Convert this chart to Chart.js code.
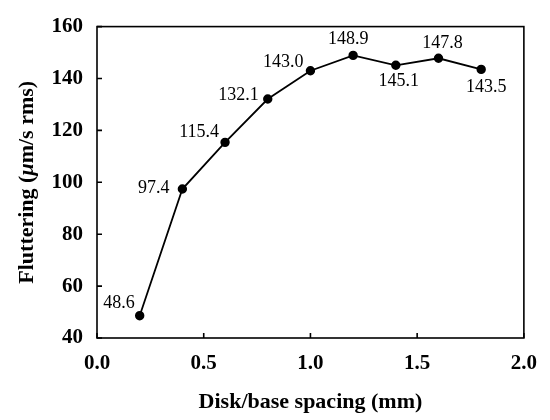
<!DOCTYPE html>
<html>
<head>
<meta charset="utf-8">
<script src="https://cdn.jsdelivr.net/npm/chart.js@4.4.0/dist/chart.umd.min.js"></script>
<style>
  html, body { margin: 0; padding: 0; background: #fff; }
  canvas { display: block; }
</style>
</head>
<body>
<canvas id="c" width="550" height="420"></canvas>
<script>
// ── DATA ─────────────────────────────────────────────────────────────
const spacing = [0.2, 0.4, 0.6, 0.8, 1.0, 1.2, 1.4, 1.6, 1.8]
const flutter = [48.6, 97.4, 115.4, 132.1, 143.0, 148.9, 145.1, 147.8, 143.5]
const xTicks = [0.0, 0.5, 1.0, 1.5, 2.0]
const yTicks = [40, 60, 80, 100, 120, 140, 160]

const SERIF = "'Liberation Serif', 'Times New Roman', serif"

// where each value label sits next to its point: [align, dx, dy]
const labelPos = [
  ["right", -5, -12], ["right", -13, -1], ["right", -6, -10],
  ["right", -9, -4], ["right", -7, -8], ["center", -5, -16],
  ["center", 3, 16], ["center", 4, -15], ["center", 5, 18]
]

// frame + inward tick marks
const frame = {
  id: "frame",
  beforeDatasetsDraw(chart) {
    const { ctx, chartArea: a, scales: { x, y } } = chart
    ctx.save()
    ctx.strokeStyle = "#000"
    ctx.lineWidth = 1.6
    ctx.strokeRect(a.left, a.top, a.right - a.left, a.bottom - a.top)
    ctx.beginPath()
    xTicks.forEach(v => {
      const px = x.getPixelForValue(v)
      ctx.moveTo(px, a.bottom); ctx.lineTo(px, a.bottom - 5)
    })
    yTicks.forEach(v => {
      const py = y.getPixelForValue(v)
      ctx.moveTo(a.left, py); ctx.lineTo(a.left + 5, py)
    })
    ctx.stroke()
    ctx.restore()
  }
}

// value labels + y title with italic mu
const labels = {
  id: "labels",
  afterDatasetsDraw(chart) {
    const { ctx } = chart
    const pts = chart.getDatasetMeta(0).data
    ctx.save()
    ctx.fillStyle = "#000"
    ctx.font = "18px " + SERIF
    ctx.textBaseline = "middle"
    pts.forEach((p, i) => {
      const [align, dx, dy] = labelPos[i]
      ctx.textAlign = align
      ctx.fillText(flutter[i].toFixed(1), p.x + dx, p.y + dy)
    })

    const parts = [
      ["Fluttering (", "bold 22px " + SERIF],
      ["\u03bc", "bold italic 22px " + SERIF],
      ["m/s rms)", "bold 22px " + SERIF]
    ]
    let w = 0
    parts.forEach(([t, f]) => { ctx.font = f; w += ctx.measureText(t).width })
    const a = chart.chartArea
    ctx.translate(27, (a.top + a.bottom) / 2)
    ctx.rotate(-Math.PI / 2)
    ctx.textAlign = "left"
    let xo = -w / 2
    parts.forEach(([t, f]) => {
      ctx.font = f
      ctx.fillText(t, xo, 0)
      xo += ctx.measureText(t).width
    })
    ctx.restore()
  }
}

new Chart(document.getElementById("c"), {
  type: "scatter",
  data: {
    datasets: [{
      data: spacing.map((x, i) => ({ x, y: flutter[i] })),
      showLine: true,
      borderColor: "#000",
      backgroundColor: "#000",
      borderWidth: 1.8,
      pointRadius: 3.8,
      pointHoverRadius: 3.8
    }]
  },
  options: {
    responsive: false,
    animation: false,
    events: [],
    layout: { padding: { top: 15, right: 25, left: 0, bottom: 0 } },
    plugins: { legend: { display: false }, tooltip: { enabled: false } },
    scales: {
      x: {
        type: "linear",
        min: 0, max: 2,
        afterBuildTicks: s => { s.ticks = xTicks.map(value => ({ value })) },
        afterFit: s => { s.height = 82 },
        grid: { display: false, drawTicks: false },
        border: { display: false },
        ticks: {
          padding: 13,
          color: "#000",
          font: { family: SERIF, size: 21, weight: "bold" },
          callback: v => v.toFixed(1)
        },
        title: {
          display: true,
          text: "Disk/base spacing (mm)",
          color: "#000",
          font: { family: SERIF, size: 22, weight: "bold" },
          padding: { top: 16 }
        }
      },
      y: {
        min: 40, max: 160,
        afterBuildTicks: s => { s.ticks = yTicks.map(value => ({ value })) },
        afterFit: s => { s.width = 97 },
        grid: { display: false, drawTicks: false },
        border: { display: false },
        ticks: {
          padding: 14,
          color: "#000",
          font: { family: SERIF, size: 21, weight: "bold" }
        }
      }
    }
  },
  plugins: [frame, labels]
})
</script>
</body>
</html>
